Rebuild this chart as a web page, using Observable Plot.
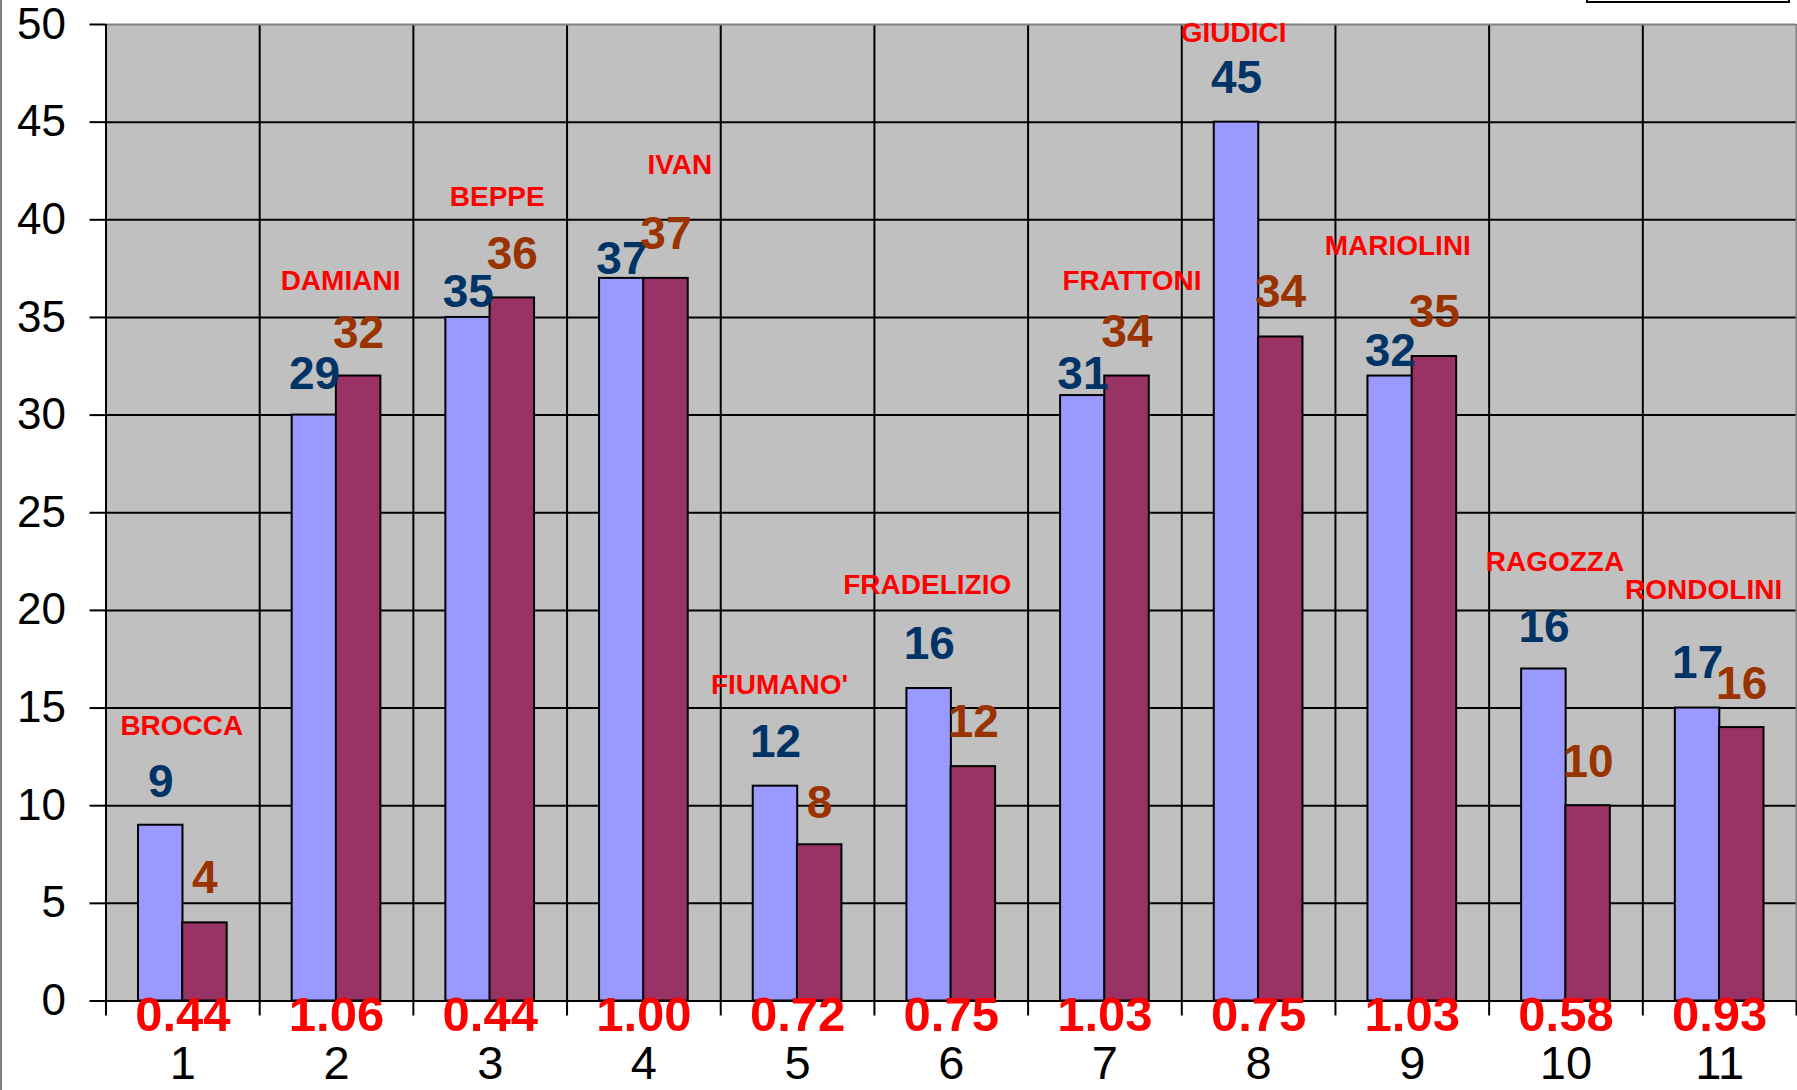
<!DOCTYPE html>
<html>
<head>
<meta charset="utf-8">
<script src="https://cdn.jsdelivr.net/npm/d3@7"></script>
<script src="https://cdn.jsdelivr.net/npm/@observablehq/plot@0.6"></script>
<style>
  html, body { margin: 0; padding: 0; background: #ffffff; }
  #wrap { position: relative; width: 1797px; height: 1090px; overflow: hidden; background: #ffffff; }
  #wrap svg { display: block; position: absolute; left: 0; top: 0; }
  #edge { position: absolute; left: 0; top: 0; width: 2px; height: 1090px; background: #808080; z-index: 2; }
  #legendbox { position: absolute; left: 1586px; top: -30px; width: 204px; height: 33px; border: 2px solid #000; background: #fff; box-sizing: border-box; z-index: 2; }
</style>
</head>
<body>
<div id="wrap"><div id="edge"></div><div id="legendbox"></div></div>
<script>
// ---- data ----
const categories = [1, 2, 3, 4, 5, 6, 7, 8, 9, 10, 11];
const seriesA = [9, 30, 35, 37, 11, 16, 31, 45, 32, 17, 15];      // light blue bars
const seriesB = [4, 32, 36, 37, 8, 12, 32, 34, 33, 10, 14];       // purple bars
const labelsA = [9, 29, 35, 37, 12, 16, 31, 45, 32, 16, 17];      // navy value labels
const labelsB = [4, 32, 36, 37, 8, 12, 34, 34, 35, 10, 16];       // brown value labels
const ratios = ["0.44", "1.06", "0.44", "1.00", "0.72", "0.75", "1.03", "0.75", "1.03", "0.58", "0.93"];
const names = ["BROCCA", "DAMIANI", "BEPPE", "IVAN", "FIUMANO'", "FRADELIZIO", "FRATTONI", "GIUDICI", "MARIOLINI", "RAGOZZA", "RONDOLINI"];
const yTicks = [0, 5, 10, 15, 20, 25, 30, 35, 40, 45, 50];

// ---- annotation anchors (data units) and pixel nudges ----
const labelAY = [11.2, 32.1, 36.3, 38.0, 13.25, 18.27, 32.08, 47.24, 33.27, 19.14, 17.27];
const labelBY = [6.3, 34.2, 38.26, 39.25, 10.1, 14.28, 34.23, 36.27, 35.27, 12.23, 16.2];
const nameY = [14.1, 36.86, 41.16, 42.78, 16.2, 21.29, 36.88, 49.56, 38.68, 22.47, 21.05];
const nameDx = [-1, 4, 7, 36, -18, -24, 27, -25, -14.5, -11, -16];

const rows = categories.map((c, i) => ({
  cat: c, a: seriesA[i], b: seriesB[i],
  la: labelsA[i], lb: labelsB[i],
  lay: labelAY[i], lby: labelBY[i],
  ratio: ratios[i], name: names[i], ny: nameY[i], ndx: nameDx[i]
}));
const boundaries = [...categories.map(c => c - 0.5), categories[categories.length - 1] + 0.5];
const inner = boundaries.slice(1, -1);

const font = "'Liberation Sans', Arial, Helvetica, sans-serif";

const chart = Plot.plot({
  width: 1797,
  height: 1090,
  marginTop: 24,
  marginBottom: 89.5,
  marginLeft: 105.5,
  marginRight: 1,
  x: { domain: [boundaries[0], boundaries[boundaries.length - 1]] },
  y: { domain: [0, 50] },
  style: { fontFamily: font, background: "transparent", color: "#000" },
  marks: [
    Plot.frame({ fill: "#C0C0C0", stroke: null }),
    Plot.gridY({ ticks: yTicks.filter(t => t > 0 && t < 50), stroke: "#000", strokeOpacity: 1, strokeWidth: 2 }),
    Plot.ruleX(inner, { stroke: "#000", strokeWidth: 2 }),
    Plot.rect(rows, {
      x1: d => d.cat - 0.5, x2: d => d.cat + 0.5, y1: d => 0, y2: "a",
      insetLeft: 32.5, insetRight: 76.7,
      fill: "#9999FF", stroke: "#000", strokeWidth: 2
    }),
    Plot.rect(rows, {
      x1: d => d.cat - 0.5, x2: d => d.cat + 0.5, y1: d => 0, y2: "b",
      insetLeft: 76.7, insetRight: 32.5,
      fill: "#993366", stroke: "#000", strokeWidth: 2
    }),
    // plot border: top and right in gray
    Plot.ruleY([50], { stroke: "#808080", strokeWidth: 2 }),
    Plot.ruleX([boundaries[boundaries.length - 1]], { stroke: "#808080", strokeWidth: 2 }),
    // axis lines
    Plot.ruleY([0], { stroke: "#000", strokeWidth: 2 }),
    Plot.ruleX([boundaries[0]], { stroke: "#000", strokeWidth: 2 }),
    // y axis
    Plot.axisY({
      ticks: yTicks, tickSize: 16, tickPadding: 24, fontSize: 44, label: null,
      stroke: "#000", fill: "#000", strokeWidth: 2, tickFormat: d => String(d)
    }),
    // x axis: boundary ticks and category labels
    Plot.axisX({
      ticks: boundaries, tickSize: 15, label: null, tickFormat: () => "",
      stroke: "#000", strokeWidth: 2
    }),
    Plot.axisX({
      ticks: categories, tickSize: 0, tickPadding: 45, fontSize: 47, label: null,
      fill: "#000", tickFormat: d => String(d)
    }),
    // value labels
    Plot.text(rows, {
      x: "cat", y: "lay", text: d => String(d.la), dx: -22,
      fill: "#003366", fontSize: 46, fontWeight: "bold"
    }),
    Plot.text(rows, {
      x: "cat", y: "lby", text: d => String(d.lb), dx: 22,
      fill: "#993300", fontSize: 46, fontWeight: "bold"
    }),
    // player names (hand-placed annotations)
    ...rows.map(r => Plot.text([r], {
      x: "cat", y: "ny", text: "name", dx: r.ndx,
      fill: "#FF0000", fontSize: 28, fontWeight: "bold"
    })),
    // ratio labels under the bars
    Plot.text(rows, {
      x: "cat", y: d => 0, text: "ratio", dy: 14,
      fill: "#FF0000", fontSize: 49, fontWeight: "bold"
    })
  ]
});

document.getElementById("wrap").prepend(chart);
</script>
</body>
</html>
